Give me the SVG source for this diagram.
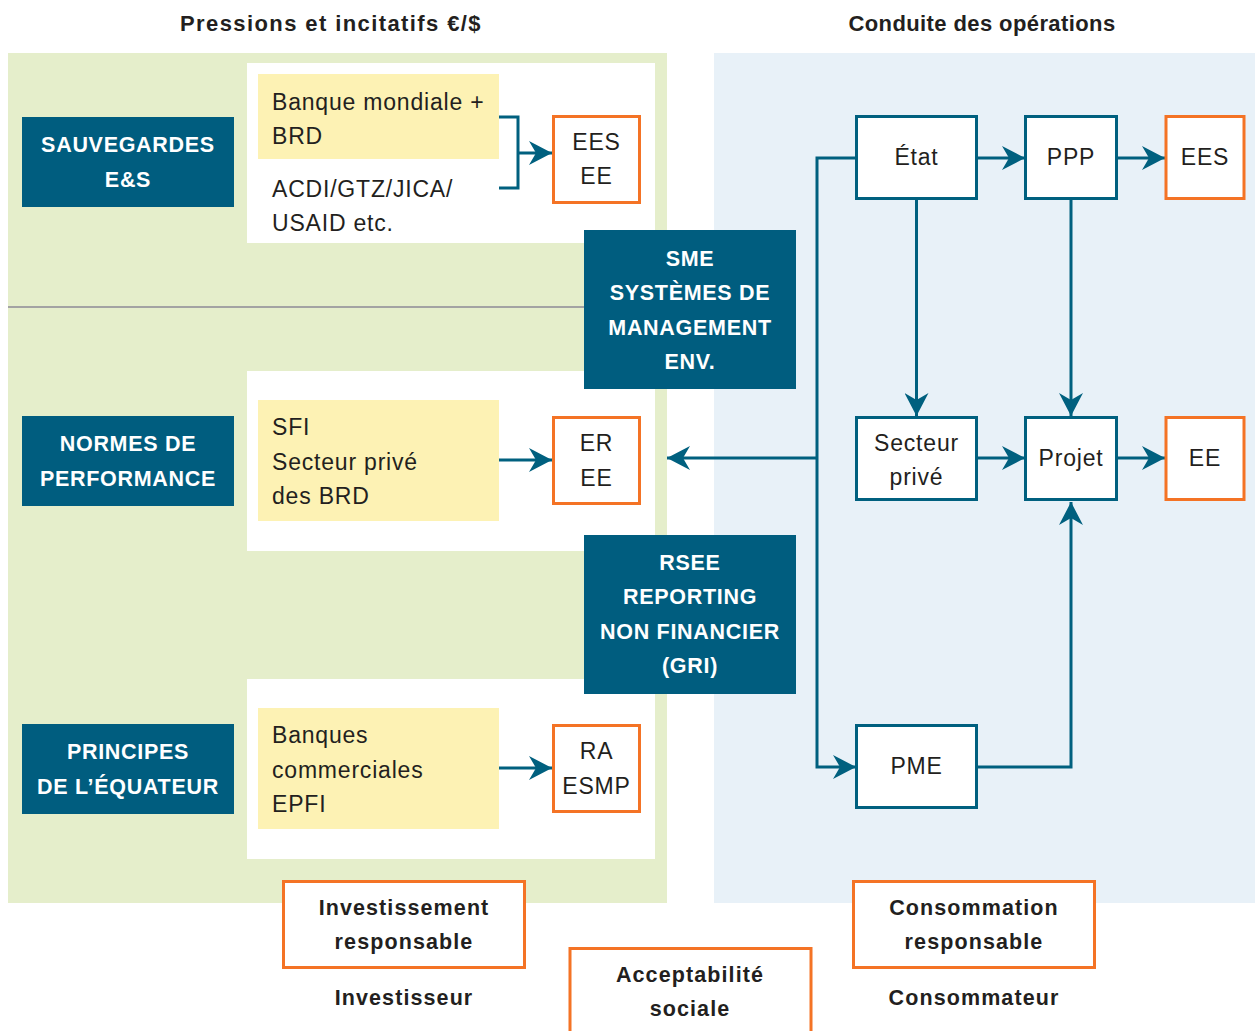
<svg xmlns="http://www.w3.org/2000/svg" width="1255" height="1031" viewBox="0 0 1255 1031">
  <defs>
    <style>
      .txt { font-family: "Liberation Sans", Arial, sans-serif; font-size: 23px; fill: #231f20; letter-spacing: 0.8px; }
      .hd { font-family: "Liberation Sans", Arial, sans-serif; font-size: 22px; font-weight: bold; fill: #231f20; letter-spacing: 0.4px; }
      .hd.wide { letter-spacing: 1.4px; }
      .wb { font-family: "Liberation Sans", Arial, sans-serif; font-size: 21.5px; font-weight: bold; fill: #ffffff; letter-spacing: 0.7px; }
      .bb { font-family: "Liberation Sans", Arial, sans-serif; font-size: 21.5px; font-weight: bold; fill: #231f20; letter-spacing: 1.1px; }
      .dark { fill: #005d7f; }
      .yel { fill: #fdf2b4; }
      .wht { fill: #ffffff; }
      .obox { fill: #ffffff; stroke: #f47325; stroke-width: 3; }
      .bbox { fill: #ffffff; stroke: #00607f; stroke-width: 3; }
      .conn { fill: none; stroke: #00607f; stroke-width: 3; }
    </style>
    <marker id="arr" markerUnits="userSpaceOnUse" viewBox="-23 -12 23 24" refX="0" refY="0" markerWidth="23" markerHeight="24" orient="auto">
      <path d="M0,0 L-23,-12 L-16,0 L-23,12 Z" fill="#00607f"/>
    </marker>
  </defs>

  <!-- backgrounds -->
  <rect x="8" y="53" width="659" height="850" fill="#e5eecb"/>
  <rect x="714" y="53" width="541" height="850" fill="#e8f1f8"/>
  <line x1="8" y1="307" x2="590" y2="307" stroke="#a3a3a3" stroke-width="2"/>

  <!-- column headings -->
  <text class="hd wide" x="331" y="31" text-anchor="middle">Pressions et incitatifs €/$</text>
  <text class="hd" x="982" y="31" text-anchor="middle">Conduite des opérations</text>

  <!-- white panels -->
  <rect class="wht" x="247" y="63" width="408" height="180"/>
  <rect class="wht" x="247" y="371" width="408" height="180"/>
  <rect class="wht" x="247" y="679" width="408" height="180"/>

  <!-- connectors -->
  <g id="connectors">
    <polyline class="conn" points="499,117 518,117 518,188 499,188"/>
    <line class="conn" x1="518" y1="153" x2="552" y2="153" marker-end="url(#arr)"/>
    <line class="conn" x1="499" y1="460" x2="552" y2="460" marker-end="url(#arr)"/>
    <line class="conn" x1="499" y1="768" x2="552" y2="768" marker-end="url(#arr)"/>

    <line class="conn" x1="977" y1="158" x2="1025" y2="158" marker-end="url(#arr)"/>
    <line class="conn" x1="1117" y1="158" x2="1165" y2="158" marker-end="url(#arr)"/>
    <line class="conn" x1="977" y1="458" x2="1025" y2="458" marker-end="url(#arr)"/>
    <line class="conn" x1="1117" y1="458" x2="1165" y2="458" marker-end="url(#arr)"/>
    <line class="conn" x1="916.5" y1="199" x2="916.5" y2="416" marker-end="url(#arr)"/>
    <line class="conn" x1="1071" y1="199" x2="1071" y2="416" marker-end="url(#arr)"/>
    <polyline class="conn" points="977,767 1071,767 1071,502" marker-end="url(#arr)"/>
    <polyline class="conn" points="856,158 817,158 817,767 856,767" marker-end="url(#arr)"/>
    <line class="conn" x1="817" y1="458" x2="667" y2="458" marker-end="url(#arr)"/>
  </g>

  <!-- safeguards row -->
  <g id="sauvegardes">
    <rect class="dark" x="22" y="117" width="212" height="90"/>
    <text class="wb" x="128" y="152" text-anchor="middle">SAUVEGARDES</text>
    <text class="wb" x="128" y="187" text-anchor="middle">E&amp;S</text>
  </g>
  <g id="bailleurs">
    <rect class="yel" x="258" y="74" width="241" height="85"/>
    <text class="txt" x="272" y="110">Banque mondiale +</text>
    <text class="txt" x="272" y="144">BRD</text>
    <text class="txt" x="272" y="197">ACDI/GTZ/JICA/</text>
    <text class="txt" x="272" y="231">USAID etc.</text>
  </g>
  <g id="ees-ee-1">
    <rect class="obox" x="553.5" y="116.5" width="86" height="86"/>
    <text class="txt" x="596.5" y="150" text-anchor="middle">EES</text>
    <text class="txt" x="596.5" y="184" text-anchor="middle">EE</text>
  </g>

  <!-- performance standards row -->
  <g id="normes">
    <rect class="dark" x="22" y="416" width="212" height="90"/>
    <text class="wb" x="128" y="451" text-anchor="middle">NORMES DE</text>
    <text class="wb" x="128" y="486" text-anchor="middle">PERFORMANCE</text>
  </g>
  <g id="sfi">
    <rect class="yel" x="258" y="400" width="241" height="121"/>
    <text class="txt" x="272" y="435">SFI</text>
    <text class="txt" x="272" y="470">Secteur privé</text>
    <text class="txt" x="272" y="504">des BRD</text>
  </g>
  <g id="er-ee">
    <rect class="obox" x="553.5" y="417.5" width="86" height="86"/>
    <text class="txt" x="596.5" y="451" text-anchor="middle">ER</text>
    <text class="txt" x="596.5" y="486" text-anchor="middle">EE</text>
  </g>

  <!-- equator principles row -->
  <g id="principes">
    <rect class="dark" x="22" y="724" width="212" height="90"/>
    <text class="wb" x="128" y="759" text-anchor="middle">PRINCIPES</text>
    <text class="wb" x="128" y="794" text-anchor="middle">DE L’ÉQUATEUR</text>
  </g>
  <g id="banques">
    <rect class="yel" x="258" y="708" width="241" height="121"/>
    <text class="txt" x="272" y="743">Banques</text>
    <text class="txt" x="272" y="778">commerciales</text>
    <text class="txt" x="272" y="812">EPFI</text>
  </g>
  <g id="ra-esmp">
    <rect class="obox" x="553.5" y="725.5" width="86" height="86"/>
    <text class="txt" x="596.5" y="759" text-anchor="middle">RA</text>
    <text class="txt" x="596.5" y="794" text-anchor="middle">ESMP</text>
  </g>

  <!-- bridging blocks -->
  <g id="sme">
    <rect class="dark" x="584" y="230" width="212" height="159"/>
    <text class="wb" x="690" y="266" text-anchor="middle">SME</text>
    <text class="wb" x="690" y="300" text-anchor="middle">SYSTÈMES DE</text>
    <text class="wb" x="690" y="335" text-anchor="middle">MANAGEMENT</text>
    <text class="wb" x="690" y="369" text-anchor="middle">ENV.</text>
  </g>
  <g id="rsee">
    <rect class="dark" x="584" y="535" width="212" height="159"/>
    <text class="wb" x="690" y="570" text-anchor="middle">RSEE</text>
    <text class="wb" x="690" y="604" text-anchor="middle">REPORTING</text>
    <text class="wb" x="690" y="639" text-anchor="middle">NON FINANCIER</text>
    <text class="wb" x="690" y="673" text-anchor="middle">(GRI)</text>
  </g>

  <!-- operations -->
  <g id="etat">
    <rect class="bbox" x="856.5" y="116.5" width="120" height="82"/>
    <text class="txt" x="916.5" y="165" text-anchor="middle">État</text>
  </g>
  <g id="ppp">
    <rect class="bbox" x="1025.5" y="116.5" width="91" height="82"/>
    <text class="txt" x="1071" y="165" text-anchor="middle">PPP</text>
  </g>
  <g id="ees-ee-2">
    <rect class="obox" x="1166" y="116.5" width="78" height="82"/>
    <text class="txt" x="1205" y="165" text-anchor="middle">EES</text>
  </g>
  <g id="secteur-prive">
    <rect class="bbox" x="856.5" y="417.5" width="120" height="82"/>
    <text class="txt" x="916.5" y="451" text-anchor="middle">Secteur</text>
    <text class="txt" x="916.5" y="485" text-anchor="middle">privé</text>
  </g>
  <g id="projet">
    <rect class="bbox" x="1025.5" y="417.5" width="91" height="82"/>
    <text class="txt" x="1071" y="466" text-anchor="middle">Projet</text>
  </g>
  <g id="ee-projet">
    <rect class="obox" x="1166" y="417.5" width="78" height="82"/>
    <text class="txt" x="1205" y="466" text-anchor="middle">EE</text>
  </g>
  <g id="pme">
    <rect class="bbox" x="856.5" y="725.5" width="120" height="82"/>
    <text class="txt" x="916.5" y="774" text-anchor="middle">PME</text>
  </g>

  <!-- stakeholders -->
  <g id="investissement">
    <rect class="obox" x="283.5" y="881.5" width="241" height="86"/>
    <text class="bb" x="404" y="915" text-anchor="middle">Investissement</text>
    <text class="bb" x="404" y="949" text-anchor="middle">responsable</text>
  </g>
  <text class="bb" x="404" y="1005" text-anchor="middle">Investisseur</text>
  <g id="acceptabilite">
    <rect class="obox" x="570" y="948.5" width="241" height="100"/>
    <text class="bb" x="690" y="982" text-anchor="middle">Acceptabilité</text>
    <text class="bb" x="690" y="1016" text-anchor="middle">sociale</text>
  </g>
  <g id="consommation">
    <rect class="obox" x="853.5" y="881.5" width="241" height="86"/>
    <text class="bb" x="974" y="915" text-anchor="middle">Consommation</text>
    <text class="bb" x="974" y="949" text-anchor="middle">responsable</text>
  </g>
  <text class="bb" x="974" y="1005" text-anchor="middle">Consommateur</text>
</svg>
